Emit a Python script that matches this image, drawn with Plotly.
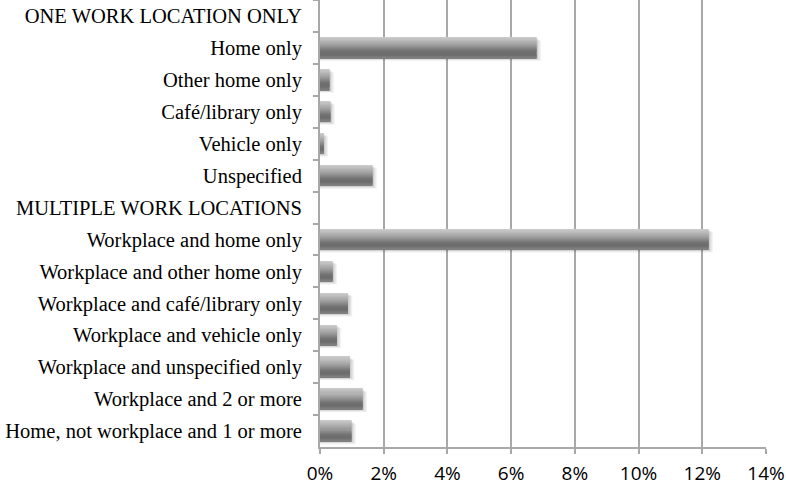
import plotly.graph_objects as go

# Rótulos das categorias (de cima para baixo) e percentuais
categorias = [
    "ONE WORK LOCATION ONLY",
    "Home only",
    "Other home only",
    "Café/library only",
    "Vehicle only",
    "Unspecified",
    "MULTIPLE WORK LOCATIONS",
    "Workplace and home only",
    "Workplace and other home only",
    "Workplace and café/library only",
    "Workplace and vehicle only",
    "Workplace and unspecified only",
    "Workplace and 2 or more",
    "Home, not workplace and 1 or more",
]
percentuais = [None, 6.8, 0.3, 0.33, 0.12, 1.65, None, 12.2, 0.4, 0.88, 0.53, 0.94, 1.34, 0.99]

x_ticks = [0, 2, 4, 6, 8, 10, 12, 14]
x_ticktext = ["0%", "2%", "4%", "6%", "8%", "10%", "12%", "14%"]

# Degradê do Excel (topo -> base): pontos de cor e quantidade de faixas
ancoras = [(0.0, 205), (0.35, 165), (0.7, 112), (0.85, 108), (1.0, 130)]
N_FAIXAS = 20
LARGURA = 0.64


def _cinza(t):
    for (t0, c0), (t1, c1) in zip(ancoras[:-1], ancoras[1:]):
        if t0 <= t <= t1:
            c = round(c0 + (c1 - c0) * (t - t0) / (t1 - t0))
            return f"rgb({c},{c},{c})"
    return f"rgb({ancoras[-1][1]},{ancoras[-1][1]},{ancoras[-1][1]})"


fig = go.Figure()

# sombra difusa
for dx, alpha in [(0.09, 0.05), (0.06, 0.07), (0.03, 0.08)]:
    fig.add_trace(go.Bar(
        x=[v + dx * 1.5 if v is not None else None for v in percentuais],
        y=categorias, orientation="h",
        width=LARGURA, offset=-LARGURA / 2 + dx,
        marker=dict(color=f"rgba(0,0,0,{alpha})", line=dict(width=0)),
        hoverinfo="skip", showlegend=False,
    ))

w = LARGURA / N_FAIXAS
for i in range(N_FAIXAS):
    fig.add_trace(go.Bar(
        x=percentuais, y=categorias, orientation="h",
        width=w * 1.15, offset=-LARGURA / 2 + i * w,
        marker=dict(color=_cinza((i + 0.5) / N_FAIXAS), line=dict(width=0)),
        hoverinfo="skip", showlegend=False,
    ))

fig.update_layout(
    width=786, height=486,
    barmode="overlay",
    paper_bgcolor="white",
    plot_bgcolor="white",
    margin=dict(l=320, r=20, t=0, b=39),
    font=dict(family="Liberation Serif", color="black", size=20.5),
    xaxis=dict(
        range=[0, 14],
        tickvals=x_ticks, ticktext=x_ticktext,
        tickfont=dict(family="Open Sans", size=19, color="black"),
        showgrid=True, gridcolor="#a8a8a8", gridwidth=2,
        showline=True, linecolor="#a8a8a8", linewidth=2,
        ticks="outside", ticklen=5, tickcolor="#a8a8a8", tickwidth=2,
        ticklabelstandoff=3,
        zeroline=False, fixedrange=True, automargin=False,
    ),
    yaxis=dict(
        autorange="reversed",
        type="category",
        tickson="boundaries",
        ticks="outside", ticklen=5, tickcolor="#a8a8a8", tickwidth=2,
        showline=True, linecolor="#a8a8a8", linewidth=2,
        showgrid=False,
        tickfont=dict(family="Liberation Serif", size=20.5, color="black"),
        ticklabelstandoff=12,
        fixedrange=True, automargin=False,
    ),
)

# remove a margem padrão do body para o gráfico ocupar a janela inteira
fig.write_html(
    "out.html",
    config={"displayModeBar": False},
    post_script="document.body.style.margin='0';",
)
